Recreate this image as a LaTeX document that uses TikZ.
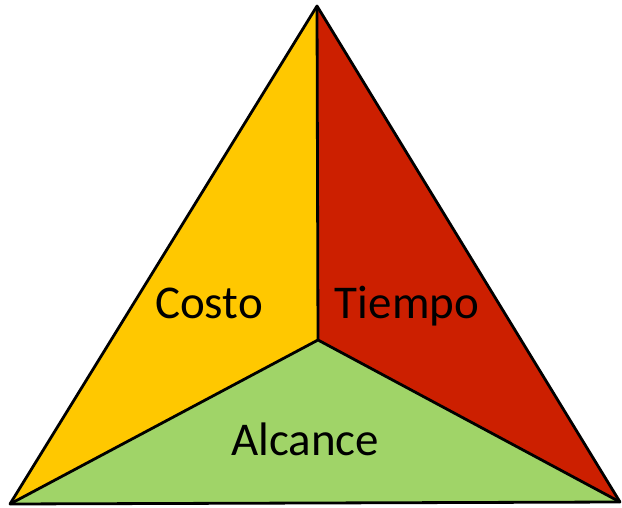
\documentclass[tikz,border=0pt]{standalone}
\usepackage{fontspec}
\setmainfont{Carlito}
\definecolor{cyellow}{HTML}{FFC800}
\definecolor{cred}{HTML}{CC1F00}
\definecolor{cgreen}{HTML}{A0D468}
\tikzset{face/.style={draw=black,line width=2.8pt,line join=round},
  lbl/.style={anchor=base,font=\fontsize{47}{50}\selectfont,inner sep=0pt}}
\begin{document}
\begin{tikzpicture}[x=1pt,y=1pt]
\useasboundingbox (0,0) rectangle (622,507);
\coordinate (A) at (317,501);
\coordinate (L) at (10,3);
\coordinate (R) at (620,5);
\coordinate (C) at (318,167);
\fill[cyellow] (A) -- (C) -- (L) -- cycle;
\fill[cred] (A) -- (R) -- (C) -- cycle;
\fill[cgreen] (L) -- (C) -- (R) -- cycle;
\draw[face] (A) -- (L) -- (R) -- cycle;
\draw[face] (A) -- (C) (L) -- (C) -- (R);
\node[lbl] (costo) at (209,189) {Costo};
\node[lbl] (tiempo) at (407,189) {Tiempo};
\node[lbl] (alcance) at (305,52) {Alcance};
\end{tikzpicture}
\end{document}
